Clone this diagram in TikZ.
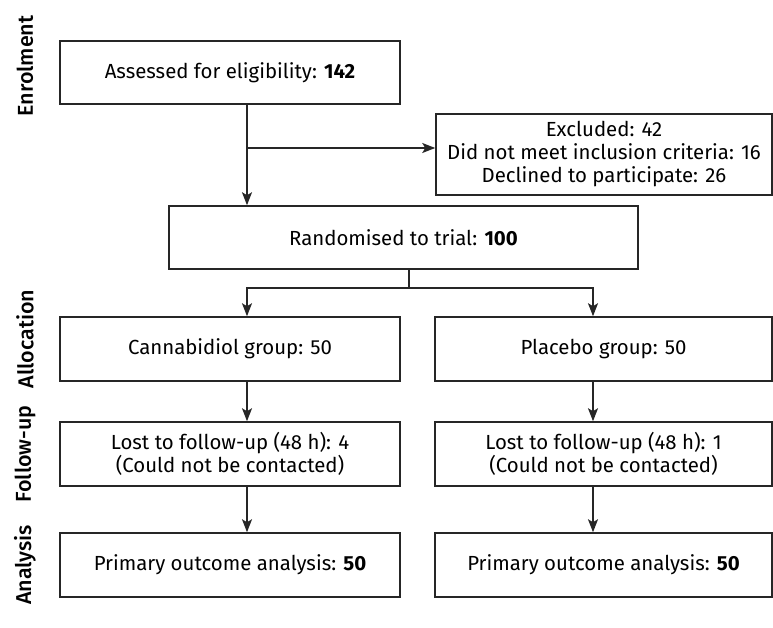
\documentclass[tikz,border=0pt]{standalone}
\usepackage{fontspec}
\setmainfont{Fira Sans}
\newfontfamily\stagefont{Fira Sans Medium}
\usetikzlibrary{arrows.meta}

\begin{document}
\begin{tikzpicture}[x = 1pt, y = -1pt,
    box/.style = {draw = black!85,
    line width = 1.5pt,
    inner sep = 0pt,
    align = center,
    font = \fontsize{20.4}{23}\selectfont},
    arr/.style = {-{Stealth[length = 13pt, width = 10pt, inset = 3pt]},
    line width = 1.5pt,
    black!85},
    side/.style = {rotate = 90,
    font = \fontsize{21.5}{23}\selectfont\stagefont}]
    \useasboundingbox (0,0) rectangle (773,628);
    % stages
    \foreach \y/\t/\n in {66/Enrolment/enrol, 339/Allocation/alloc,
      454/Follow-up/follow, 565/Analysis/anal} {
      \node [side] (\n) at (25,\y) {\t};
    }
    % boxes
    \node [box, minimum width = 340pt, minimum height = 63pt]
    (assess) at (230,72.5) {Assessed for eligibility: \textbf{142}};
    \node [box, minimum width = 336pt, minimum height = 81pt]
    (excl) at (604,154.5) {Excluded: 42\\Did not meet inclusion criteria: 16\\
      Declined to participate: 26};
    \node [box, minimum width = 469pt, minimum height = 63pt]
    (rand) at (403.5,237.5) {Randomised to trial: \textbf{100}};
    \node [box, minimum width = 340pt, minimum height = 64pt]
    (cbd) at (230,349) {Cannabidiol group: 50};
    \node [box, minimum width = 337pt, minimum height = 64pt]
    (plac) at (603.5,349) {Placebo group: 50};
    \node [box, minimum width = 340pt, minimum height = 64pt]
    (lostc) at (230,454) {Lost to follow-up (48 h): 4\\(Could not be contacted)};
    \node [box, minimum width = 337pt, minimum height = 64pt]
    (lostp) at (603.5,454) {Lost to follow-up (48 h): 1\\(Could not be contacted)};
    \node [box, minimum width = 340pt, minimum height = 64pt]
    (anac) at (230,565) {Primary outcome analysis: \textbf{50}};
    \node [box, minimum width = 337pt, minimum height = 64pt]
    (anap) at (603.5,565) {Primary outcome analysis: \textbf{50}};
    % arrows
    \coordinate (colL) at (247,0);
    \coordinate (colR) at (593,0);
    \coordinate (split) at (247,148);
    \coordinate (fork) at (409,288);
    \draw [arr] (assess.south -| colL) -- (rand.north -| colL);
    \draw [arr] (split) -- (split -| excl.west);
    \draw [line width = 1.5pt, black!85] (rand.south -| fork) -- (fork);
    \draw [arr] (fork) -| (cbd.north -| colL);
    \draw [arr] (fork) -| (plac.north -| colR);
    \draw [arr] (cbd.south -| colL) -- (lostc.north -| colL);
    \draw [arr] (plac.south -| colR) -- (lostp.north -| colR);
    \draw [arr] (lostc.south -| colL) -- (anac.north -| colL);
    \draw [arr] (lostp.south -| colR) -- (anap.north -| colR);
  \end{tikzpicture}
\end{document}
